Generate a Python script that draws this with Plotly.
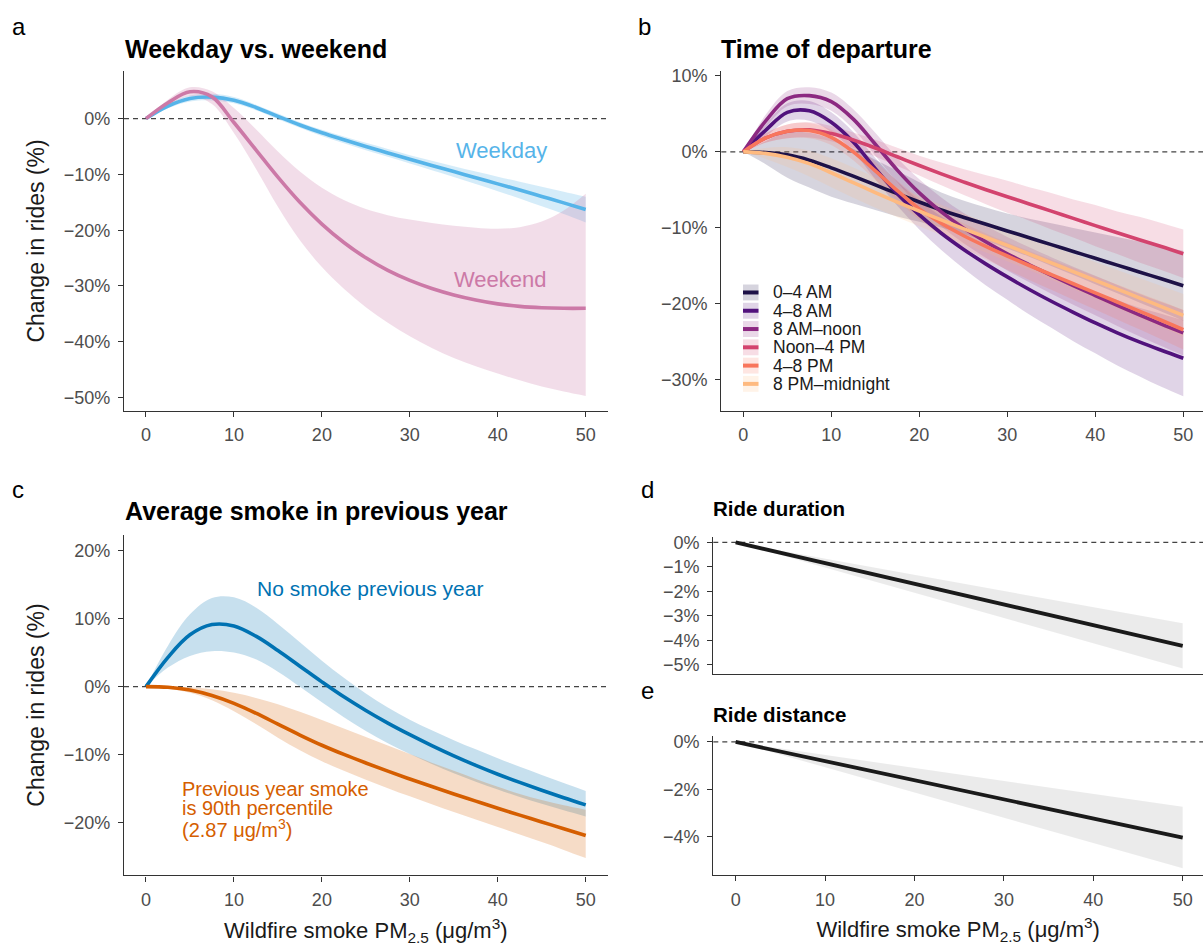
import plotly.graph_objects as go

W, H = 1203, 947
FONT = "Liberation Sans, Arial, Helvetica, sans-serif"


def px(x):
    return x / W


def py(y):
    return 1 - y / H


# ---------------- data ----------------
X = [0, 2.5, 5, 7.5, 10, 12.5, 15, 17.5, 20, 22.5, 25, 27.5, 30, 32.5, 35, 37.5, 40, 42.5, 45, 47.5, 50]
X_LIN = [0, 10, 20, 30, 40, 50]
X_TICKS = [0, 10, 20, 30, 40, 50]

# Panel a: weekday vs weekend
weekday_fit = [0, 2.25, 3.6, 3.85, 3.3, 2.0, 0.4, -1.15, -2.55, -3.8, -5.0, -6.15, -7.3, -8.4, -9.5, -10.6, -11.7, -12.8, -13.95, -15.1, -16.3]
weekday_hw = [0, 0.4, 0.55, 0.6, 0.55, 0.5, 0.5, 0.5, 0.55, 0.6, 0.65, 0.7, 0.75, 0.85, 0.95, 1.1, 1.3, 1.5, 1.75, 2.0, 2.3]
weekend_fit = [0, 2.85, 4.8, 3.9, -0.7, -5.6, -10.5, -15.0, -18.9, -22.2, -24.95, -27.2, -29.0, -30.45, -31.6, -32.5, -33.2, -33.65, -33.9, -34.0, -34.0]
weekend_hi = [0, 3.4, 5.6, 4.9, 1.9, -1.9, -5.9, -9.5, -12.4, -14.6, -16.2, -17.3, -18.1, -18.7, -19.2, -19.55, -19.75, -19.45, -18.45, -16.45, -13.45]
weekend_lo = [0, 2.3, 4.0, 2.6, -2.6, -9.0, -15.8, -21.8, -26.6, -30.5, -33.8, -36.6, -39.0, -41.1, -42.9, -44.4, -45.7, -46.9, -48.0, -48.9, -49.7]

# Panel b: time of departure
departure_labels = ["0–4 AM", "4–8 AM", "8 AM–noon", "Noon–4 PM", "4–8 PM", "8 PM–midnight"]
departure_colors = ["#1D1147", "#51127C", "#8C2981", "#D3436E", "#F8765C", "#FEBA80"]
dep_0_4_fit = [0, -0.1, -0.4, -1.1, -2.1, -3.2, -4.35, -5.5, -6.6, -7.65, -8.6, -9.5, -10.4, -11.3, -12.2, -13.1, -14.0, -14.9, -15.8, -16.7, -17.6]
dep_0_4_hw = [0, 1.5, 3.0, 3.6, 3.8, 3.6, 3.3, 3.0, 2.6, 2.3, 2.2, 2.2, 2.3, 2.5, 2.8, 3.1, 3.4, 3.7, 4.0, 4.3, 4.6]
dep_4_8_fit = [0, 2.8, 5.2, 5.4, 3.9, 1.3, -2.2, -5.5, -8.3, -10.7, -12.8, -14.7, -16.45, -18.1, -19.65, -21.1, -22.5, -23.8, -25.0, -26.1, -27.15]
dep_4_8_hw = [0, 0.8, 1.2, 1.3, 1.3, 1.3, 1.4, 1.6, 1.9, 2.2, 2.5, 2.8, 3.0, 3.3, 3.5, 3.8, 4.0, 4.3, 4.5, 4.8, 5.0]
dep_8_12_fit = [0, 4.0, 7.0, 7.4, 6.6, 4.3, 1.0, -2.4, -5.4, -7.9, -10.0, -11.8, -13.4, -14.85, -16.25, -17.6, -18.9, -20.2, -21.45, -22.65, -23.8]
dep_8_12_hw = [0, 0.8, 1.0, 1.1, 1.2, 1.3, 1.5, 1.6, 1.8, 1.9, 2.0, 2.1, 2.2, 2.3, 2.4, 2.5, 2.6, 2.7, 2.8, 2.9, 3.0]
dep_12_16_fit = [0, 1.8, 2.7, 2.9, 2.4, 1.55, 0.5, -0.65, -1.8, -2.9, -3.95, -4.95, -5.9, -6.85, -7.8, -8.75, -9.7, -10.65, -11.55, -12.45, -13.4]
dep_12_16_hw = [0, 0.6, 0.9, 1.0, 1.0, 1.0, 1.1, 1.2, 1.3, 1.5, 1.7, 1.9, 2.1, 2.2, 2.4, 2.5, 2.7, 2.8, 3.0, 3.1, 3.2]
dep_16_20_fit = [0, 1.8, 2.7, 2.8, 1.9, 0.0, -2.5, -5.1, -7.5, -9.4, -11.0, -12.4, -13.7, -14.95, -16.15, -17.35, -18.55, -19.75, -20.95, -22.15, -23.4]
dep_16_20_hw = [0, 0.6, 0.9, 1.0, 1.0, 1.1, 1.2, 1.3, 1.4, 1.5, 1.6, 1.7, 1.8, 1.9, 2.0, 2.1, 2.2, 2.3, 2.4, 2.5, 2.6]
dep_20_24_fit = [0, -0.2, -0.7, -1.55, -2.75, -4.05, -5.35, -6.6, -7.8, -8.95, -10.1, -11.2, -12.3, -13.45, -14.6, -15.75, -16.9, -18.05, -19.2, -20.35, -21.5]
dep_20_24_hw = [0, 0.7, 1.3, 1.7, 1.9, 2.0, 2.0, 2.0, 2.0, 2.0, 2.0, 2.0, 2.1, 2.1, 2.2, 2.3, 2.4, 2.5, 2.6, 2.7, 2.8]

# Panel c: previous-year smoke
nosmoke_fit = [0, 4.3, 7.6, 9.1, 8.9, 7.4, 5.3, 3.0, 0.7, -1.5, -3.5, -5.35, -7.05, -8.65, -10.15, -11.55, -12.85, -14.05, -15.2, -16.3, -17.35]
nosmoke_hi = [0, 6.0, 10.6, 13.0, 13.1, 11.6, 9.2, 6.5, 3.8, 1.3, -1.0, -3.05, -4.85, -6.4, -7.85, -9.2, -10.5, -11.75, -12.95, -14.15, -15.3]
nosmoke_lo = [0, 2.8, 4.5, 5.2, 5.0, 4.0, 2.2, 0.0, -2.3, -4.5, -6.5, -8.3, -9.9, -11.35, -12.7, -13.95, -15.1, -16.2, -17.2, -18.15, -19.05]
p90_fit = [0, -0.1, -0.5, -1.3, -2.45, -3.9, -5.5, -7.1, -8.6, -9.95, -11.2, -12.4, -13.55, -14.65, -15.75, -16.8, -17.85, -18.85, -19.85, -20.85, -21.85]
p90_hi = [0, 0.0, -0.1, -0.4, -0.9, -1.65, -2.6, -3.7, -4.9, -6.15, -7.4, -8.65, -9.9, -11.15, -12.35, -13.55, -14.7, -15.75, -16.65, -17.4, -18.05]
p90_lo = [0, -0.3, -0.9, -2.0, -3.6, -5.5, -7.5, -9.35, -10.95, -12.35, -13.65, -14.9, -16.1, -17.25, -18.4, -19.5, -20.6, -21.7, -22.8, -23.95, -25.15]

# Panel d: ride duration ; Panel e: ride distance
duration_fit = [0, -0.85, -1.7, -2.55, -3.4, -4.22]
duration_hi = [0, -0.66, -1.33, -2.0, -2.65, -3.3]
duration_lo = [0, -1.03, -2.06, -3.1, -4.12, -5.14]
distance_fit = [0, -0.81, -1.61, -2.42, -3.22, -4.03]
distance_hi = [0, -0.55, -1.09, -1.64, -2.18, -2.73]
distance_lo = [0, -1.06, -2.13, -3.19, -4.26, -5.32]


def rgba(hex_color, a):
    h = hex_color.lstrip("#")
    r, g, b = int(h[0:2], 16), int(h[2:4], 16), int(h[4:6], 16)
    return f"rgba({r},{g},{b},{a})"


def pct_labels(vals):
    return [(f"−{abs(v)}%" if v < 0 else f"{v}%") for v in vals]


fig = go.Figure()


def add_band(x, lo, hi, fillcolor, xa, ya, shape="spline"):
    fig.add_trace(go.Scatter(x=x, y=lo, mode="lines", line=dict(width=0, shape=shape, smoothing=1),
                             showlegend=False, hoverinfo="skip", xaxis=xa, yaxis=ya))
    fig.add_trace(go.Scatter(x=x, y=hi, mode="lines", line=dict(width=0, shape=shape, smoothing=1),
                             fill="tonexty", fillcolor=fillcolor,
                             showlegend=False, hoverinfo="skip", xaxis=xa, yaxis=ya))


def add_line(x, y, color, xa, ya, name, shape="spline", width=3.6):
    fig.add_trace(go.Scatter(x=x, y=y, mode="lines", name=name,
                             line=dict(color=color, width=width, shape=shape, smoothing=1),
                             showlegend=False, xaxis=xa, yaxis=ya))


def sub(a, b):
    return [u - v for u, v in zip(a, b)]


def add(a, b):
    return [u + v for u, v in zip(a, b)]


# Panel a
C_WD, C_WE = "#56B4E9", "#CC79A7"
add_band(X, sub(weekday_fit, weekday_hw), add(weekday_fit, weekday_hw), rgba(C_WD, 0.25), "x", "y")
add_band(X, weekend_lo, weekend_hi, rgba(C_WE, 0.25), "x", "y")
add_line(X, weekday_fit, C_WD, "x", "y", "Weekday")
add_line(X, weekend_fit, C_WE, "x", "y", "Weekend")

# Panel b
dep_fits = [dep_0_4_fit, dep_4_8_fit, dep_8_12_fit, dep_12_16_fit, dep_16_20_fit, dep_20_24_fit]
dep_hws = [dep_0_4_hw, dep_4_8_hw, dep_8_12_hw, dep_12_16_hw, dep_16_20_hw, dep_20_24_hw]
BAND_B = 0.18
for fit, hw, col in zip(dep_fits, dep_hws, departure_colors):
    add_band(X, sub(fit, hw), add(fit, hw), rgba(col, BAND_B), "x2", "y2")
for fit, col, lab in zip(dep_fits, departure_colors, departure_labels):
    add_line(X, fit, col, "x2", "y2", lab)

# Panel c
C_NS, C_P90 = "#0072B2", "#D55E00"
add_band(X, nosmoke_lo, nosmoke_hi, rgba(C_NS, 0.22), "x3", "y3")
add_band(X, p90_lo, p90_hi, rgba(C_P90, 0.22), "x3", "y3")
add_line(X, nosmoke_fit, C_NS, "x3", "y3", "No smoke previous year")
add_line(X, p90_fit, C_P90, "x3", "y3", "Previous year smoke 90th pct")

# Panels d, e
add_band(X_LIN, duration_lo, duration_hi, "rgba(0,0,0,0.08)", "x4", "y4", shape="linear")
add_line(X_LIN, duration_fit, "#1A1A1A", "x4", "y4", "Ride duration", shape="linear", width=3.8)
add_band(X_LIN, distance_lo, distance_hi, "rgba(0,0,0,0.08)", "x5", "y5", shape="linear")
add_line(X_LIN, distance_fit, "#1A1A1A", "x5", "y5", "Ride distance", shape="linear", width=3.8)

# ---------------- axes ----------------
TICKFONT = dict(family=FONT, size=18, color="#4D4D4D")
base = dict(showline=True, linecolor="#333333", linewidth=1.3, ticks="outside", ticklen=5,
            tickwidth=1.2, tickcolor="#333333", showgrid=False, zeroline=False,
            tickfont=TICKFONT, fixedrange=True)
xbase = dict(base, tickvals=X_TICKS, ticktext=[str(v) for v in X_TICKS], ticklabelstandoff=3)
ybase = dict(base, ticklabelstandoff=4)

XT = "Wildfire smoke PM<sub>2.5</sub> (μg/m<sup>3</sup>)"
YT = "Change in rides (%)"
XTFONT = dict(family=FONT, size=22, color="#1A1A1A")
YTFONT = dict(family=FONT, size=23, color="#1A1A1A")

xa_dom = [px(124), px(607.7)]
xb_dom = [px(721.3), 1.0]
xd_dom = [px(713.3), 1.0]

ya_ticks = [-50, -40, -30, -20, -10, 0]
yb_ticks = [-30, -20, -10, 0, 10]
yc_ticks = [-20, -10, 0, 10, 20]
yd_ticks = [-5, -4, -3, -2, -1, 0]
ye_ticks = [-4, -2, 0]

fig.update_layout(
    xaxis=dict(xbase, domain=xa_dom, range=[-2.5, 52.5], anchor="y"),
    yaxis=dict(ybase, domain=[py(408.3), py(66.7)], range=[-52.35, 8.48],
               tickvals=ya_ticks, ticktext=pct_labels(ya_ticks), anchor="x",
               title=dict(text=YT, font=YTFONT, standoff=12)),
    xaxis2=dict(xbase, domain=xb_dom, range=[-2.5, 52.24], anchor="y2"),
    yaxis2=dict(ybase, domain=[py(408.3), py(66.7)], range=[-34.05, 10.6],
                tickvals=yb_ticks, ticktext=pct_labels(yb_ticks), anchor="x2"),
    xaxis3=dict(xbase, domain=xa_dom, range=[-2.5, 52.5], anchor="y3",
                title=dict(text=XT, font=XTFONT, standoff=13)),
    yaxis3=dict(ybase, domain=[py(876), py(533)], range=[-27.7, 22.3],
                tickvals=yc_ticks, ticktext=pct_labels(yc_ticks), anchor="x3",
                title=dict(text=YT, font=YTFONT, standoff=12)),
    xaxis4=dict(xbase, domain=xd_dom, range=[-2.5, 52.27], anchor="y4",
                ticks="", showticklabels=False),
    yaxis4=dict(ybase, domain=[py(673.3), py(535)], range=[-5.37, 0.237],
                tickvals=yd_ticks, ticktext=pct_labels(yd_ticks), anchor="x4"),
    xaxis5=dict(xbase, domain=xd_dom, range=[-2.5, 52.27], anchor="y5",
                title=dict(text=XT, font=XTFONT, standoff=13)),
    yaxis5=dict(ybase, domain=[py(875.3), py(735.3)], range=[-5.59, 0.266],
                tickvals=ye_ticks, ticktext=pct_labels(ye_ticks), anchor="x5"),
)

# dashed zero lines
shapes = []
for xr, yr in [("x", "y"), ("x2", "y2"), ("x3", "y3"), ("x4", "y4"), ("x5", "y5")]:
    shapes.append(dict(type="line", xref=f"{xr} domain", yref=yr, x0=0, x1=1, y0=0, y1=0,
                       line=dict(color="#444444", width=1.2, dash="5px,4px"), layer="below"))

# manual legend for panel b
annotations = []
row0, rowgap = 289.3, 18.4
for i, (lab, col) in enumerate(zip(departure_labels, departure_colors)):
    yc = row0 + i * rowgap
    shapes.append(dict(type="rect", xref="paper", yref="paper",
                       x0=px(743), x1=px(758.5), y0=py(yc + 8), y1=py(yc - 8),
                       fillcolor=rgba(col, BAND_B), line=dict(width=0)))
    shapes.append(dict(type="line", xref="paper", yref="paper",
                       x0=px(743), x1=px(758.5), y0=py(yc), y1=py(yc),
                       line=dict(color=col, width=4)))
    annotations.append(dict(text=lab, xref="paper", yref="paper", x=px(771), y=py(yc),
                            xanchor="left", yanchor="middle", showarrow=False,
                            font=dict(family=FONT, size=17.5, color="#1A1A1A")))

# panel letters and titles
for letter, xl, yl in [("a", 10, 22), ("b", 636, 22), ("c", 10, 488), ("d", 639, 488), ("e", 639, 690)]:
    annotations.append(dict(text=letter, xref="paper", yref="paper", x=px(xl), y=py(yl),
                            xanchor="left", yanchor="middle", showarrow=False,
                            font=dict(family=FONT, size=24, color="#000000")))
for title, xl, yl, sz in [("Weekday vs. weekend", 123, 44, 25),
                          ("Time of departure", 719, 44, 25),
                          ("Average smoke in previous year", 123, 509, 25),
                          ("Ride duration", 711, 507, 20.5),
                          ("Ride distance", 711, 714, 20.5)]:
    annotations.append(dict(text=f"<b>{title}</b>", xref="paper", yref="paper", x=px(xl), y=py(yl),
                            xanchor="left", yanchor="middle", showarrow=False,
                            font=dict(family=FONT, size=sz, color="#000000")))

# in-plot labels
annotations += [
    dict(text="Weekday", xref="x", yref="y", x=40.4, y=-5.8, showarrow=False,
         font=dict(family=FONT, size=22, color=C_WD)),
    dict(text="Weekend", xref="x", yref="y", x=40.3, y=-28.8, showarrow=False,
         font=dict(family=FONT, size=22, color=C_WE)),
    dict(text="No smoke previous year", xref="x3", yref="y3", x=25.5, y=14.45, showarrow=False,
         font=dict(family=FONT, size=21, color=C_NS)),
]
for txt, yv in [("Previous year smoke", -15.0), ("is 90th percentile", -17.75),
                ("(2.87 μg/m<sup>3</sup>)", -20.85)]:
    annotations.append(dict(text=txt, xref="x3", yref="y3", x=3.87, y=yv, xanchor="left",
                            yanchor="middle", showarrow=False,
                            font=dict(family=FONT, size=20, color=C_P90)))

fig.update_layout(
    width=W, height=H, margin=dict(l=0, r=0, t=0, b=0),
    paper_bgcolor="white", plot_bgcolor="white",
    showlegend=False, shapes=shapes, annotations=annotations,
    font=dict(family=FONT, color="#1A1A1A"),
)

fig.write_html("out.html")
